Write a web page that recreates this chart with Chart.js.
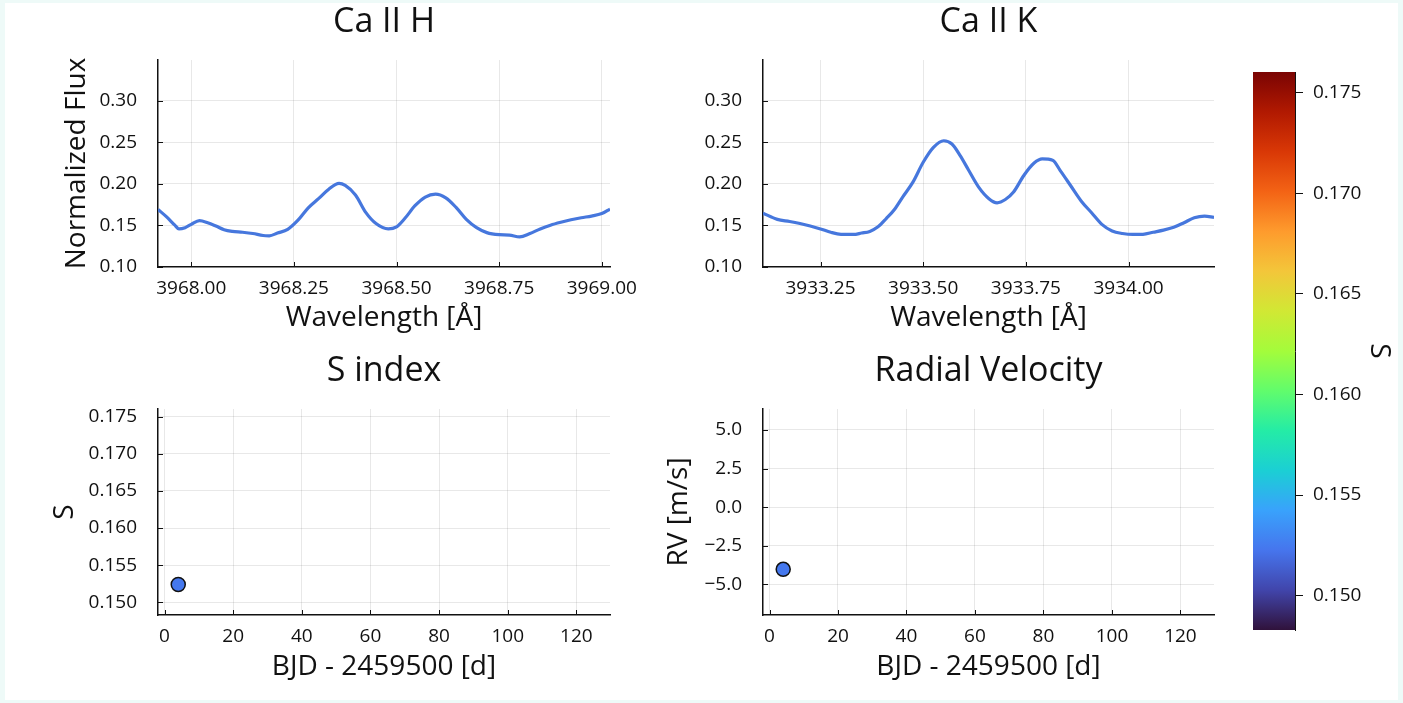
<!DOCTYPE html>
<html>
<head>
<meta charset="utf-8">
<script src="https://cdn.jsdelivr.net/npm/chart.js@4.4.1/dist/chart.umd.min.js"></script>
<style>
  html, body { margin: 0; padding: 0; background: #eefaf8; overflow: hidden; }
  #page { position: absolute; left: 5px; top: 3px; width: 1393px; height: 697px; background: #fff; }
  canvas { position: absolute; }
</style>
</head>
<body>
<div id="page"></div>
<canvas id="caH"   style="left:0;top:0"       width="650" height="345"></canvas>
<canvas id="caK"   style="left:650px;top:0"   width="580" height="345"></canvas>
<canvas id="sIdx"  style="left:0;top:349px"   width="650" height="354"></canvas>
<canvas id="rv"    style="left:650px;top:349px" width="580" height="354"></canvas>
<canvas id="cbar"  style="left:1230px;top:0"  width="173" height="703"></canvas>
<script>
// ---- data ----
const CA_H_WAVE = [3967.919, 3967.94, 3967.96, 3967.97, 3967.985, 3968.00, 3968.02, 3968.04, 3968.06, 3968.08,
  3968.10, 3968.125, 3968.15, 3968.175, 3968.19, 3968.21, 3968.235, 3968.26, 3968.285, 3968.31,
  3968.335, 3968.36, 3968.375, 3968.40, 3968.425, 3968.45, 3968.48, 3968.50, 3968.52, 3968.545,
  3968.57, 3968.595, 3968.62, 3968.645, 3968.67, 3968.695, 3968.72, 3968.75, 3968.775, 3968.80,
  3968.825, 3968.85, 3968.875, 3968.90, 3968.925, 3968.95, 3968.975, 3969.00, 3969.02];
const CA_H_FLUX = [0.169, 0.160, 0.150, 0.1455, 0.147, 0.151, 0.1555, 0.153, 0.149, 0.1445,
  0.1425, 0.1415, 0.140, 0.1375, 0.1372, 0.1405, 0.145, 0.156, 0.171, 0.182,
  0.1935, 0.2005, 0.198, 0.1865, 0.1655, 0.152, 0.1455, 0.148, 0.158, 0.1735,
  0.184, 0.1875, 0.183, 0.1715, 0.157, 0.147, 0.141, 0.1385, 0.138, 0.1358,
  0.140, 0.1455, 0.150, 0.1535, 0.1565, 0.159, 0.161, 0.164, 0.1695];

const CA_K_WAVE = [3933.11, 3933.145, 3933.175, 3933.20, 3933.225, 3933.25, 3933.275, 3933.30, 3933.33, 3933.35,
  3933.37, 3933.39, 3933.41, 3933.43, 3933.45, 3933.475, 3933.50, 3933.525, 3933.55, 3933.57,
  3933.59, 3933.61, 3933.635, 3933.66, 3933.68, 3933.70, 3933.72, 3933.745, 3933.77, 3933.79,
  3933.815, 3933.835, 3933.86, 3933.885, 3933.91, 3933.935, 3933.96, 3933.985, 3934.01, 3934.035,
  3934.06, 3934.085, 3934.11, 3934.135, 3934.16, 3934.185, 3934.208];
const CA_K_FLUX = [0.1645, 0.157, 0.1545, 0.152, 0.149, 0.1455, 0.1415, 0.139, 0.1388, 0.1405,
  0.1425, 0.148, 0.158, 0.169, 0.184, 0.202, 0.226, 0.244, 0.252, 0.248,
  0.234, 0.217, 0.196, 0.182, 0.177, 0.181, 0.190, 0.210, 0.225, 0.230,
  0.2285, 0.215, 0.197, 0.179, 0.165, 0.151, 0.143, 0.140, 0.1388, 0.139,
  0.1415, 0.144, 0.1475, 0.153, 0.159, 0.161, 0.1595];

const BJD     = [4.0];
const S_INDEX = [0.1524];
const RV      = [-4.03];

const CA_H_XTICKS = [3968.00, 3968.25, 3968.50, 3968.75, 3969.00];
const CA_K_XTICKS = [3933.25, 3933.50, 3933.75, 3934.00];
const FLUX_TICKS  = [0.10, 0.15, 0.20, 0.25, 0.30];
const BJD_TICKS   = [0, 20, 40, 60, 80, 100, 120];
const S_TICKS     = [0.150, 0.155, 0.160, 0.165, 0.170, 0.175];
const RV_TICKS    = [-5.0, -2.5, 0.0, 2.5, 5.0];

const S_RANGE  = [0.14829, 0.17604];
const RV_RANGE = [-6.99, 6.36];
const FLUX_RANGE = [0.0995, 0.3495];
const BJD_RANGE  = [-1.9, 129.8];

// turbo colormap, evenly spaced stops
const TURBO = ['#30123b','#4145ab','#4675ed','#39a2fc','#1bcfd4','#24eca6','#61fc6c','#a4fc3b',
               '#d1e834','#f3c63a','#fe9b2d','#f36315','#d93806','#b11901','#7a0403'];

const FONT = "'Open Sans', sans-serif";
const INK = '#111';
const LINE = '#4677dd';
const GRID = 'rgba(0,0,0,0.09)';
const TITLE_SIZE = 34, AXIS_SIZE = 28, TICK_SIZE = 19;

function hex(h) { return [1,3,5].map(i => parseInt(h.substr(i,2),16)); }
function turbo(t) {
  t = Math.max(0, Math.min(1, t));
  const f = t * (TURBO.length - 1), i = Math.min(Math.floor(f), TURBO.length - 2), u = f - i;
  const a = hex(TURBO[i]), b = hex(TURBO[i+1]);
  return 'rgb(' + a.map((c,k) => Math.round(c + (b[k]-c)*u)).join(',') + ')';
}
const sColor = v => turbo((v - S_RANGE[0]) / (S_RANGE[1] - S_RANGE[0]));

// short inward tick marks along the axes
const innerTicks = {
  id: 'innerTicks',
  afterDatasetsDraw(chart) {
    const {ctx, chartArea: a, scales} = chart;
    ctx.save();
    ctx.strokeStyle = INK; ctx.lineWidth = 1;
    scales.x.ticks.forEach(t => {
      const px = Math.round(scales.x.getPixelForValue(t.value)) + 0.5;
      ctx.beginPath(); ctx.moveTo(px, a.bottom); ctx.lineTo(px, a.bottom - 5); ctx.stroke();
    });
    scales.y.ticks.forEach(t => {
      const py = Math.round(scales.y.getPixelForValue(t.value)) + 0.5;
      ctx.beginPath(); ctx.moveTo(a.left, py); ctx.lineTo(a.left + 5, py); ctx.stroke();
    });
    ctx.restore();
  }
};

function panel(id, p) {
  const el = document.getElementById(id);
  const W = el.width, H = el.height;
  const titleLH = TITLE_SIZE * 1.2, axLH = AXIS_SIZE * 1.2;
  return new Chart(el, {
    type: p.type,
    data: { datasets: p.datasets },
    options: {
      responsive: false, animation: false,
      layout: { padding: { left: 0, top: 0, right: W - p.area.right, bottom: 0 } },
      plugins: {
        legend: { display: false }, tooltip: { enabled: false },
        title: { display: true, text: p.title, fullSize: false, color: INK,
          font: { family: FONT, size: TITLE_SIZE, weight: 'normal', lineHeight: 1.2 },
          padding: { top: 22 - titleLH / 2, bottom: p.area.top - titleLH - (22 - titleLH / 2) } }
      },
      scales: {
        x: {
          type: 'linear', min: p.xRange[0], max: p.xRange[1],
          afterFit: s => { s.height = H - p.area.bottom; },
          afterBuildTicks: s => { s.ticks = p.xTicks.map(v => ({ value: v })); },
          ticks: { callback: p.xFmt, color: INK, font: { family: FONT, size: TICK_SIZE }, padding: 10, maxRotation: 0, autoSkip: false },
          grid: { color: GRID, drawTicks: false },
          border: { color: INK, width: 1.5 },
          title: { display: true, text: p.xTitle, color: INK, font: { family: FONT, size: AXIS_SIZE, lineHeight: 1.2 },
            padding: { top: 0, bottom: H - p.xTitleY - axLH / 2 } }
        },
        y: {
          type: 'linear', min: p.yRange[0], max: p.yRange[1],
          afterFit: s => { s.width = p.area.left; },
          afterBuildTicks: s => { s.ticks = p.yTicks.map(v => ({ value: v })); },
          ticks: { callback: p.yFmt, color: INK, font: { family: FONT, size: TICK_SIZE }, padding: 21, autoSkip: false },
          grid: { color: GRID, drawTicks: false },
          border: { color: INK, width: 1.5 },
          title: { display: !!p.yTitle, text: p.yTitle || '', color: INK, font: { family: FONT, size: AXIS_SIZE, lineHeight: 1.2 },
            padding: { top: (p.yTitleX || 0) - axLH / 2, bottom: 0 } }
        }
      }
    },
    plugins: [innerTicks]
  });
}

const lineSet = (xs, ys) => [{
  data: xs.map((x, i) => ({ x, y: ys[i] })),
  borderColor: LINE, borderWidth: 3.2, pointRadius: 0, cubicInterpolationMode: 'monotone', fill: false
}];
const dotSet = (xs, ys) => [{
  data: xs.map((x, i) => ({ x, y: ys[i] })),
  backgroundColor: S_INDEX.map(sColor), borderColor: INK, borderWidth: 1.5, pointRadius: 7
}];
const f2 = v => (+v).toFixed(2);
const f3 = v => (+v).toFixed(3);
const f1m = v => (+v).toFixed(1).replace('-', '\u2212');
const f0 = v => String(Math.round(v));

panel('caH', {
  type: 'line', datasets: lineSet(CA_H_WAVE, CA_H_FLUX), title: 'Ca II H',
  area: { left: 158, top: 60, right: 610, bottom: 267 },
  xRange: [3967.919, 3969.020], yRange: FLUX_RANGE, xTicks: CA_H_XTICKS, yTicks: FLUX_TICKS,
  xFmt: f2, yFmt: f2, xTitle: 'Wavelength [Å]', xTitleY: 318, yTitle: 'Normalized Flux', yTitleX: 77
});
panel('caK', {
  type: 'line', datasets: lineSet(CA_K_WAVE, CA_K_FLUX), title: 'Ca II K',
  area: { left: 113, top: 60, right: 564, bottom: 267 },
  xRange: [3933.110, 3934.208], yRange: FLUX_RANGE, xTicks: CA_K_XTICKS, yTicks: FLUX_TICKS,
  xFmt: f2, yFmt: f2, xTitle: 'Wavelength [Å]', xTitleY: 318
});
panel('sIdx', {
  type: 'scatter', datasets: dotSet(BJD, S_INDEX), title: 'S index',
  area: { left: 158, top: 60, right: 610, bottom: 266 },
  xRange: BJD_RANGE, yRange: S_RANGE, xTicks: BJD_TICKS, yTicks: S_TICKS,
  xFmt: f0, yFmt: f3, xTitle: 'BJD - 2459500 [d]', xTitleY: 318, yTitle: 'S', yTitleX: 65
});
panel('rv', {
  type: 'scatter', datasets: dotSet(BJD, RV), title: 'Radial Velocity',
  area: { left: 113, top: 60, right: 564, bottom: 266 },
  xRange: BJD_RANGE, yRange: RV_RANGE, xTicks: BJD_TICKS, yTicks: RV_TICKS,
  xFmt: f0, yFmt: f1m, xTitle: 'BJD - 2459500 [d]', xTitleY: 318, yTitle: 'RV [m/s]', yTitleX: 29
});

// colour bar: one floating bar spanning the S range, filled with the turbo gradient
new Chart(document.getElementById('cbar'), {
  type: 'bar',
  data: { labels: ['S'], datasets: [{
    data: [S_RANGE],
    barPercentage: 1, categoryPercentage: 1, borderWidth: 0, borderSkipped: false,
    backgroundColor: ctx => {
      const a = ctx.chart.chartArea;
      if (!a) return TURBO[0];
      const g = ctx.chart.ctx.createLinearGradient(0, a.bottom, 0, a.top);
      TURBO.forEach((c, i) => g.addColorStop(i / (TURBO.length - 1), c));
      return g;
    }
  }]},
  options: {
    responsive: false, animation: false,
    layout: { padding: { left: 23, top: 72, right: 0, bottom: 73 } },
    plugins: { legend: { display: false }, tooltip: { enabled: false } },
    scales: {
      x: { display: false },
      y: {
        position: 'right', min: S_RANGE[0], max: S_RANGE[1],
        afterFit: s => { s.width = 108; },
        afterBuildTicks: s => { s.ticks = S_TICKS.map(v => ({ value: v })); },
        ticks: { callback: f3, color: INK, font: { family: FONT, size: TICK_SIZE }, padding: 10 },
        grid: { drawOnChartArea: false, drawTicks: true, tickLength: 8, color: INK, tickWidth: 1 },
        border: { display: true, color: INK, width: 1 },
        title: { display: true, text: 'S', color: INK, font: { family: FONT, size: AXIS_SIZE, lineHeight: 1.2 }, padding: { top: 7, bottom: 7 } }
      }
    }
  }
});
</script>
</body>
</html>
